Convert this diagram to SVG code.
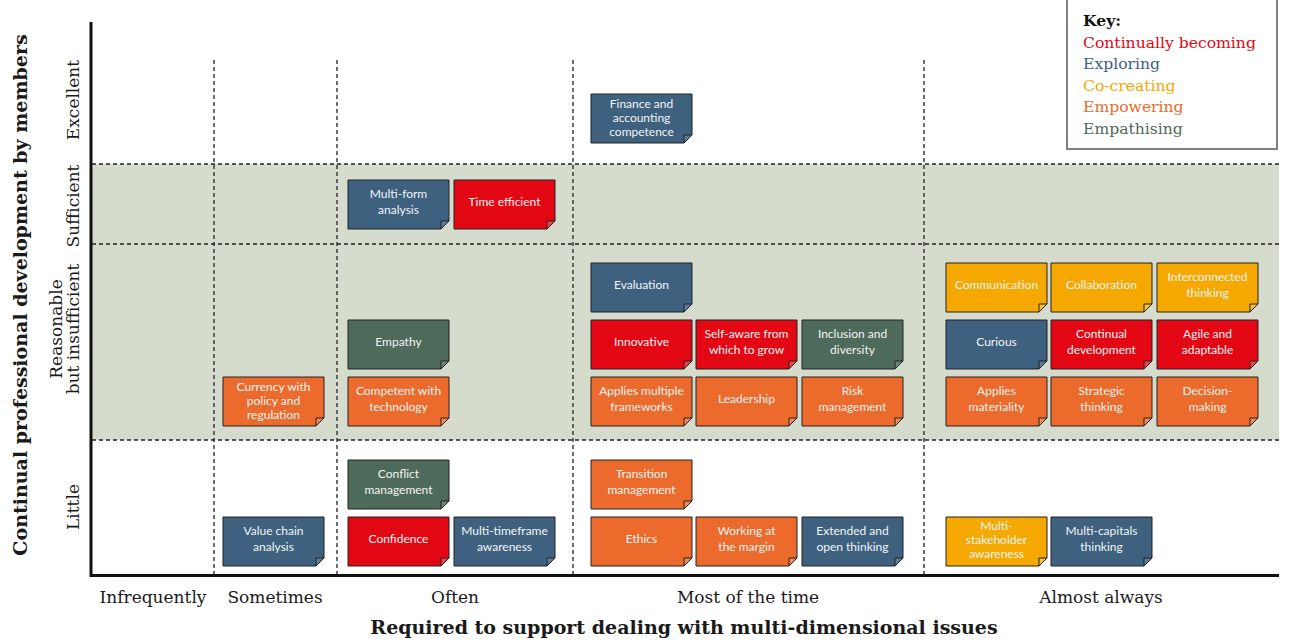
<svg xmlns="http://www.w3.org/2000/svg" width="1294" height="643" viewBox="0 0 1294 643">
<style>
.ax{font-family:"DejaVu Serif","Liberation Serif",serif;fill:#1a1a1a}
.lvl{font-size:17px;text-anchor:middle}
.ttl{font-size:19px;font-weight:bold;text-anchor:middle}
.key{font-family:"DejaVu Serif","Liberation Serif",serif;font-size:15.6px}
.card{stroke:#222;stroke-width:1}
.fold{stroke:#222;stroke-width:1}
.lbl{font-family:Lato,"Open Sans",sans-serif;font-size:12px;fill:#f4f4f4;text-anchor:middle}
.ex .card{fill:#3d617f}.ex .fold{fill:#5a7d99}
.cb .card{fill:#e30613}.cb .fold{fill:#f0404a}
.co .card{fill:#f5a800}.co .fold{fill:#f8c040}
.em .card{fill:#ec6a2b}.em .fold{fill:#f28a55}
.ep .card{fill:#4e6a5a}.ep .fold{fill:#6c8878}
.dash{stroke:#222;stroke-width:1.3;stroke-dasharray:4 3;fill:none}
</style>
<defs>
<path id="card" d="M0,0 H101 V41 L93,49 H0 Z"/>
<path id="fold" d="M93,49 V41 H101 Z"/>
</defs>
<rect width="1294" height="643" fill="#fff"/>
<g id="grid">
<rect x="92" y="164" width="1187" height="276" fill="#d5dccd"/>
<path class="dash" d="M92,164 H1279 M92,244 H1279 M92,440 H1279"/>
<path class="dash" d="M214,60 V574 M337,60 V574 M573,60 V574 M924,60 V574"/>
<path d="M91,22 V575.5 H1279" fill="none" stroke="#111" stroke-width="3"/>
</g>
<g id="key">
<rect x="1067" y="-5" width="210" height="154" fill="#fff" stroke="#555" stroke-width="1.5"/>
<text class="key" x="1083" y="26" font-weight="bold" fill="#111">Key:</text>
<text class="key" x="1083" y="48" fill="#e30613">Continually becoming</text>
<text class="key" x="1083" y="69" fill="#3d617f">Exploring</text>
<text class="key" x="1083" y="91" fill="#f5a800">Co-creating</text>
<text class="key" x="1083" y="112" fill="#ec6a2b">Empowering</text>
<text class="key" x="1083" y="134" fill="#4e6a5a">Empathising</text>
</g>
<g id="axis-labels" class="ax">
<text class="ttl" transform="translate(27,295) rotate(-90)">Continual professional development by members</text>
<text class="lvl" transform="translate(79,100) rotate(-90)">Excellent</text>
<text class="lvl" transform="translate(79,206) rotate(-90)">Sufficient</text>
<text class="lvl" transform="translate(62,329) rotate(-90)">Reasonable</text>
<text class="lvl" transform="translate(79,329) rotate(-90)">but insufficient</text>
<text class="lvl" transform="translate(79,507) rotate(-90)">Little</text>
<text class="lvl" x="153" y="603">Infrequently</text>
<text class="lvl" x="275" y="603">Sometimes</text>
<text class="lvl" x="455" y="603">Often</text>
<text class="lvl" x="748" y="603">Most of the time</text>
<text class="lvl" x="1101" y="603">Almost always</text>
<text class="ttl" x="684" y="634">Required to support dealing with multi-dimensional issues</text>
</g>
<g id="connectors"></g>
<g id="n-finance" class="ex" transform="translate(591,94)"><use href="#card" class="card"/><use href="#fold" class="fold"/><text class="lbl" x="50.5"><tspan y="13.5" x="50.5">Finance and</tspan><tspan y="27.5" x="50.5">accounting</tspan><tspan y="41.5" x="50.5">competence</tspan></text></g>
<g id="n-multiform" class="ex" transform="translate(348,180)"><use href="#card" class="card"/><use href="#fold" class="fold"/><text class="lbl"><tspan y="17.5" x="50.5">Multi-form</tspan><tspan y="34" x="50.5">analysis</tspan></text></g>
<g id="n-timeefficient" class="cb" transform="translate(454,180)"><use href="#card" class="card"/><use href="#fold" class="fold"/><text class="lbl" x="50.5" y="25.5">Time efficient</text></g>
<g id="n-evaluation" class="ex" transform="translate(591,263)"><use href="#card" class="card"/><use href="#fold" class="fold"/><text class="lbl" x="50.5" y="25.5">Evaluation</text></g>
<g id="n-innovative" class="cb" transform="translate(591,320)"><use href="#card" class="card"/><use href="#fold" class="fold"/><text class="lbl" x="50.5" y="25.5">Innovative</text></g>
<g id="n-selfaware" class="cb" transform="translate(696,320)"><use href="#card" class="card"/><use href="#fold" class="fold"/><text class="lbl"><tspan y="17.5" x="50.5">Self-aware from</tspan><tspan y="34" x="50.5">which to grow</tspan></text></g>
<g id="n-inclusion" class="ep" transform="translate(802,320)"><use href="#card" class="card"/><use href="#fold" class="fold"/><text class="lbl"><tspan y="17.5" x="50.5">Inclusion and</tspan><tspan y="34" x="50.5">diversity</tspan></text></g>
<g id="n-frameworks" class="em" transform="translate(591,377)"><use href="#card" class="card"/><use href="#fold" class="fold"/><text class="lbl"><tspan y="17.5" x="50.5">Applies multiple</tspan><tspan y="34" x="50.5">frameworks</tspan></text></g>
<g id="n-leadership" class="em" transform="translate(696,377)"><use href="#card" class="card"/><use href="#fold" class="fold"/><text class="lbl" x="50.5" y="25.5">Leadership</text></g>
<g id="n-risk" class="em" transform="translate(802,377)"><use href="#card" class="card"/><use href="#fold" class="fold"/><text class="lbl"><tspan y="17.5" x="50.5">Risk</tspan><tspan y="34" x="50.5">management</tspan></text></g>
<g id="n-communication" class="co" transform="translate(946,263)"><use href="#card" class="card"/><use href="#fold" class="fold"/><text class="lbl" x="50.5" y="25.5">Communication</text></g>
<g id="n-collaboration" class="co" transform="translate(1051,263)"><use href="#card" class="card"/><use href="#fold" class="fold"/><text class="lbl" x="50.5" y="25.5">Collaboration</text></g>
<g id="n-interconnected" class="co" transform="translate(1157,263)"><use href="#card" class="card"/><use href="#fold" class="fold"/><text class="lbl"><tspan y="17.5" x="50.5">Interconnected</tspan><tspan y="34" x="50.5">thinking</tspan></text></g>
<g id="n-curious" class="ex" transform="translate(946,320)"><use href="#card" class="card"/><use href="#fold" class="fold"/><text class="lbl" x="50.5" y="25.5">Curious</text></g>
<g id="n-continual" class="cb" transform="translate(1051,320)"><use href="#card" class="card"/><use href="#fold" class="fold"/><text class="lbl"><tspan y="17.5" x="50.5">Continual</tspan><tspan y="34" x="50.5">development</tspan></text></g>
<g id="n-agile" class="cb" transform="translate(1157,320)"><use href="#card" class="card"/><use href="#fold" class="fold"/><text class="lbl"><tspan y="17.5" x="50.5">Agile and</tspan><tspan y="34" x="50.5">adaptable</tspan></text></g>
<g id="n-materiality" class="em" transform="translate(946,377)"><use href="#card" class="card"/><use href="#fold" class="fold"/><text class="lbl"><tspan y="17.5" x="50.5">Applies</tspan><tspan y="34" x="50.5">materiality</tspan></text></g>
<g id="n-strategic" class="em" transform="translate(1051,377)"><use href="#card" class="card"/><use href="#fold" class="fold"/><text class="lbl"><tspan y="17.5" x="50.5">Strategic</tspan><tspan y="34" x="50.5">thinking</tspan></text></g>
<g id="n-decision" class="em" transform="translate(1157,377)"><use href="#card" class="card"/><use href="#fold" class="fold"/><text class="lbl"><tspan y="17.5" x="50.5">Decision-</tspan><tspan y="34" x="50.5">making</tspan></text></g>
<g id="n-empathy" class="ep" transform="translate(348,320)"><use href="#card" class="card"/><use href="#fold" class="fold"/><text class="lbl" x="50.5" y="25.5">Empathy</text></g>
<g id="n-competent" class="em" transform="translate(348,377)"><use href="#card" class="card"/><use href="#fold" class="fold"/><text class="lbl"><tspan y="17.5" x="50.5">Competent with</tspan><tspan y="34" x="50.5">technology</tspan></text></g>
<g id="n-currency" class="em" transform="translate(223,377)"><use href="#card" class="card"/><use href="#fold" class="fold"/><text class="lbl"><tspan y="13.5" x="50.5">Currency with</tspan><tspan y="27.5" x="50.5">policy and</tspan><tspan y="41.5" x="50.5">regulation</tspan></text></g>
<g id="n-conflict" class="ep" transform="translate(348,460)"><use href="#card" class="card"/><use href="#fold" class="fold"/><text class="lbl"><tspan y="17.5" x="50.5">Conflict</tspan><tspan y="34" x="50.5">management</tspan></text></g>
<g id="n-valuechain" class="ex" transform="translate(223,517)"><use href="#card" class="card"/><use href="#fold" class="fold"/><text class="lbl"><tspan y="17.5" x="50.5">Value chain</tspan><tspan y="34" x="50.5">analysis</tspan></text></g>
<g id="n-confidence" class="cb" transform="translate(348,517)"><use href="#card" class="card"/><use href="#fold" class="fold"/><text class="lbl" x="50.5" y="25.5">Confidence</text></g>
<g id="n-timeframe" class="ex" transform="translate(454,517)"><use href="#card" class="card"/><use href="#fold" class="fold"/><text class="lbl"><tspan y="17.5" x="50.5">Multi-timeframe</tspan><tspan y="34" x="50.5">awareness</tspan></text></g>
<g id="n-transition" class="em" transform="translate(591,460)"><use href="#card" class="card"/><use href="#fold" class="fold"/><text class="lbl"><tspan y="17.5" x="50.5">Transition</tspan><tspan y="34" x="50.5">management</tspan></text></g>
<g id="n-ethics" class="em" transform="translate(591,517)"><use href="#card" class="card"/><use href="#fold" class="fold"/><text class="lbl" x="50.5" y="25.5">Ethics</text></g>
<g id="n-margin" class="em" transform="translate(696,517)"><use href="#card" class="card"/><use href="#fold" class="fold"/><text class="lbl"><tspan y="17.5" x="50.5">Working at</tspan><tspan y="34" x="50.5">the margin</tspan></text></g>
<g id="n-extended" class="ex" transform="translate(802,517)"><use href="#card" class="card"/><use href="#fold" class="fold"/><text class="lbl"><tspan y="17.5" x="50.5">Extended and</tspan><tspan y="34" x="50.5">open thinking</tspan></text></g>
<g id="n-stakeholder" class="co" transform="translate(946,517)"><use href="#card" class="card"/><use href="#fold" class="fold"/><text class="lbl"><tspan y="12.5" x="50.5">Multi-</tspan><tspan y="26.5" x="50.5">stakeholder</tspan><tspan y="40.5" x="50.5">awareness</tspan></text></g>
<g id="n-capitals" class="ex" transform="translate(1051,517)"><use href="#card" class="card"/><use href="#fold" class="fold"/><text class="lbl"><tspan y="17.5" x="50.5">Multi-capitals</tspan><tspan y="34" x="50.5">thinking</tspan></text></g>
</svg>
